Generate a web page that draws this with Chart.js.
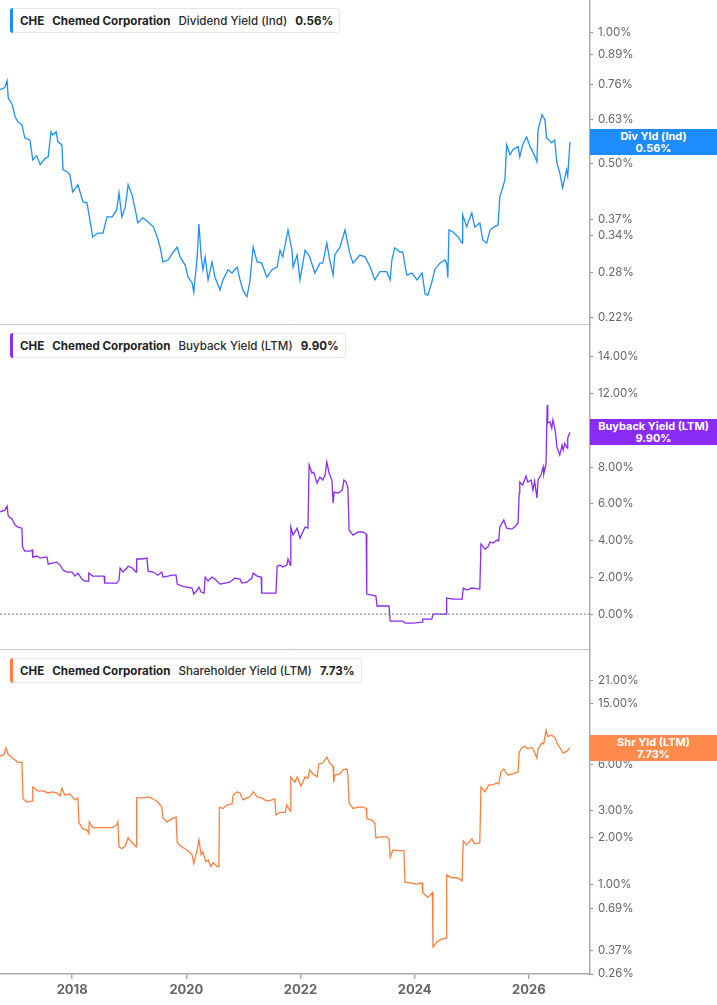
<!DOCTYPE html>
<html>
<head>
<meta charset="utf-8">
<script src="https://cdn.jsdelivr.net/npm/chart.js@4.4.1/dist/chart.umd.min.js"></script>
<style>
html,body{margin:0;padding:0;background:#fff;}
#wrap{position:relative;width:717px;height:1005px;overflow:hidden;font-family:Inter,"Noto Sans",sans-serif;}
.pane{position:absolute;left:0;width:717px;}
.legend{position:absolute;left:10px;top:8px;height:25px;border:1px solid #e6e6e6;border-radius:3px;background:#fff;display:flex;align-items:center;padding:0 6px 0 9px;font-size:11.6px;color:#222;white-space:nowrap;box-sizing:border-box;z-index:2;}
.legend .bar{position:absolute;left:-1px;top:-1px;bottom:-1px;width:3px;border-radius:3px 0 0 3px;}
.legend span{margin-right:8px;}
.legend span:last-child{margin-right:0;}
.legend .b{font-weight:700;}
.legend .n{font-weight:500;color:#2a2a2a;}
.badge{position:absolute;left:590px;width:127px;height:26px;color:#fff;font-weight:700;font-size:11px;line-height:12px;text-align:center;display:flex;flex-direction:column;justify-content:center;z-index:3;}
</style>
</head>
<body>
<div id="wrap">
  <div class="pane" style="top:0;height:325px;">
    <canvas id="c1"></canvas>
    <div class="legend"><div class="bar" style="background:#1e8cff"></div><span class="b">CHE</span><span class="b">Chemed Corporation</span><span class="n">Dividend Yield (Ind)</span><span class="b">0.56%</span></div>
    <div class="badge" id="b1" style="background:#1e8cff"><div>Div Yld (Ind)</div><div>0.56%</div></div>
  </div>
  <div class="pane" style="top:325px;height:325px;">
    <canvas id="c2"></canvas>
    <div class="legend"><div class="bar" style="background:#8a2cf5"></div><span class="b">CHE</span><span class="b">Chemed Corporation</span><span class="n">Buyback Yield (LTM)</span><span class="b">9.90%</span></div>
    <div class="badge" id="b2" style="background:#8a2cf5"><div>Buyback Yield (LTM)</div><div>9.90%</div></div>
  </div>
  <div class="pane" style="top:650px;height:355px;">
    <canvas id="c3"></canvas>
    <div class="legend"><div class="bar" style="background:#ff7f3f"></div><span class="b">CHE</span><span class="b">Chemed Corporation</span><span class="n">Shareholder Yield (LTM)</span><span class="b">7.73%</span></div>
    <div class="badge" id="b3" style="background:#ff8a4c"><div>Shr Yld (LTM)</div><div>7.73%</div></div>
  </div>
</div>
<script>
// ---------- DATA ----------
const yearTicks = [2018, 2020, 2022, 2024, 2026];
const xRange = [2016.736, 2027.07];

const divTicks = [1.00, 0.89, 0.76, 0.63, 0.50, 0.37, 0.34, 0.28, 0.22];
const divRange = [0.2128, 1.19];
const divLast = 0.56;
const dividendYield = [[2016.74,0.739],[2016.82,0.747],[2016.86,0.775],[2016.88,0.707],[2016.95,0.682],[2017.00,0.640],[2017.05,0.623],[2017.12,0.613],[2017.17,0.572],[2017.26,0.566],[2017.31,0.509],[2017.38,0.520],[2017.44,0.496],[2017.52,0.512],[2017.58,0.517],[2017.63,0.591],[2017.66,0.581],[2017.72,0.591],[2017.75,0.560],[2017.82,0.551],[2017.84,0.483],[2017.91,0.478],[2017.96,0.470],[2018.01,0.429],[2018.10,0.446],[2018.19,0.407],[2018.26,0.405],[2018.31,0.370],[2018.36,0.338],[2018.45,0.345],[2018.54,0.345],[2018.61,0.376],[2018.70,0.376],[2018.78,0.390],[2018.82,0.427],[2018.87,0.376],[2018.93,0.396],[2018.98,0.446],[2019.05,0.422],[2019.10,0.394],[2019.15,0.364],[2019.24,0.374],[2019.33,0.366],[2019.42,0.357],[2019.49,0.338],[2019.54,0.320],[2019.59,0.296],[2019.68,0.299],[2019.77,0.312],[2019.84,0.320],[2019.89,0.304],[2019.98,0.291],[2020.03,0.273],[2020.10,0.265],[2020.13,0.252],[2020.19,0.304],[2020.22,0.362],[2020.26,0.304],[2020.29,0.284],[2020.33,0.304],[2020.38,0.269],[2020.45,0.296],[2020.50,0.273],[2020.59,0.255],[2020.64,0.269],[2020.73,0.284],[2020.80,0.279],[2020.89,0.288],[2020.94,0.269],[2020.99,0.255],[2021.06,0.246],[2021.11,0.265],[2021.17,0.320],[2021.24,0.296],[2021.32,0.294],[2021.41,0.273],[2021.50,0.284],[2021.59,0.288],[2021.64,0.315],[2021.69,0.304],[2021.78,0.351],[2021.85,0.315],[2021.87,0.288],[2021.94,0.307],[2021.99,0.269],[2022.08,0.315],[2022.16,0.304],[2022.25,0.279],[2022.34,0.294],[2022.39,0.294],[2022.46,0.327],[2022.51,0.299],[2022.57,0.276],[2022.60,0.307],[2022.69,0.320],[2022.78,0.351],[2022.86,0.310],[2022.92,0.294],[2023.04,0.307],[2023.13,0.304],[2023.22,0.288],[2023.30,0.269],[2023.39,0.281],[2023.51,0.281],[2023.57,0.269],[2023.60,0.299],[2023.65,0.319],[2023.74,0.312],[2023.79,0.312],[2023.86,0.276],[2023.95,0.279],[2024.04,0.269],[2024.13,0.279],[2024.18,0.250],[2024.23,0.248],[2024.30,0.266],[2024.35,0.284],[2024.44,0.294],[2024.53,0.299],[2024.56,0.294],[2024.58,0.272],[2024.60,0.351],[2024.67,0.347],[2024.76,0.338],[2024.83,0.327],[2024.84,0.380],[2024.91,0.357],[2025.00,0.384],[2025.05,0.356],[2025.14,0.364],[2025.19,0.333],[2025.26,0.327],[2025.32,0.351],[2025.40,0.357],[2025.46,0.360],[2025.49,0.418],[2025.54,0.439],[2025.58,0.458],[2025.61,0.551],[2025.67,0.523],[2025.72,0.537],[2025.81,0.546],[2025.84,0.517],[2025.89,0.551],[2025.96,0.575],[2026.02,0.546],[2026.07,0.531],[2026.14,0.504],[2026.16,0.597],[2026.23,0.647],[2026.28,0.630],[2026.31,0.572],[2026.40,0.557],[2026.45,0.566],[2026.49,0.501],[2026.54,0.475],[2026.59,0.439],[2026.66,0.483],[2026.68,0.467],[2026.72,0.560]];

const buyTicks = [14, 12, 10, 8, 6, 4, 2, 0];
const buyRange = [-1.9, 15.74];
const buyLast = 9.90;
const buybackYield = [[2016.74,5.57],[2016.82,5.66],[2016.86,5.88],[2016.88,5.34],[2016.95,5.17],[2017.00,4.85],[2017.05,4.74],[2017.12,4.68],[2017.13,3.65],[2017.17,3.43],[2017.26,3.43],[2017.30,3.49],[2017.31,3.10],[2017.38,3.16],[2017.44,3.05],[2017.52,3.10],[2017.56,3.10],[2017.58,2.72],[2017.65,2.78],[2017.73,2.83],[2017.79,2.67],[2017.84,2.40],[2017.91,2.29],[2018.00,2.29],[2018.05,2.07],[2018.10,2.23],[2018.17,1.91],[2018.22,1.80],[2018.28,1.80],[2018.29,2.23],[2018.36,2.07],[2018.45,2.07],[2018.56,2.07],[2018.57,1.69],[2018.66,1.69],[2018.78,1.69],[2018.82,1.85],[2018.84,2.51],[2018.89,2.29],[2018.96,2.51],[2018.98,2.61],[2019.05,2.51],[2019.12,2.29],[2019.13,3.00],[2019.22,3.00],[2019.31,3.05],[2019.33,2.34],[2019.42,2.29],[2019.50,2.12],[2019.57,2.29],[2019.59,2.02],[2019.68,2.07],[2019.75,2.12],[2019.82,2.12],[2019.84,1.63],[2019.92,1.52],[2020.01,1.47],[2020.10,1.42],[2020.13,1.09],[2020.19,1.31],[2020.22,1.47],[2020.26,1.20],[2020.31,1.14],[2020.33,2.02],[2020.38,1.80],[2020.45,2.02],[2020.50,1.91],[2020.59,1.63],[2020.68,1.69],[2020.76,1.74],[2020.85,1.96],[2020.94,1.91],[2020.97,1.69],[2021.06,1.74],[2021.15,1.96],[2021.17,2.23],[2021.24,2.07],[2021.31,2.02],[2021.32,1.14],[2021.41,1.14],[2021.50,1.14],[2021.57,1.14],[2021.59,2.61],[2021.64,2.67],[2021.69,2.56],[2021.76,2.67],[2021.78,3.00],[2021.82,2.67],[2021.83,4.74],[2021.87,4.30],[2021.94,4.68],[2021.99,4.14],[2022.08,4.74],[2022.13,4.68],[2022.15,8.12],[2022.20,7.68],[2022.23,7.73],[2022.29,7.13],[2022.34,7.46],[2022.39,7.30],[2022.43,7.57],[2022.46,8.28],[2022.50,7.68],[2022.55,7.30],[2022.57,6.05],[2022.59,6.64],[2022.66,6.59],[2022.73,6.75],[2022.76,7.30],[2022.80,7.19],[2022.83,6.86],[2022.85,4.58],[2022.92,4.30],[2023.01,4.47],[2023.09,4.47],[2023.15,4.36],[2023.16,1.09],[2023.25,1.03],[2023.32,0.98],[2023.34,0.44],[2023.44,0.44],[2023.55,0.44],[2023.57,-0.38],[2023.69,-0.38],[2023.79,-0.38],[2023.83,-0.49],[2023.97,-0.49],[2024.13,-0.44],[2024.14,-0.27],[2024.30,-0.27],[2024.32,0.00],[2024.44,0.00],[2024.55,0.00],[2024.56,0.87],[2024.67,0.82],[2024.83,0.82],[2024.85,1.42],[2024.91,1.31],[2025.00,1.42],[2025.14,1.36],[2025.16,3.81],[2025.23,3.54],[2025.28,3.65],[2025.32,3.92],[2025.37,3.87],[2025.44,4.03],[2025.47,3.98],[2025.49,4.74],[2025.56,5.12],[2025.61,4.68],[2025.70,4.63],[2025.75,4.74],[2025.81,4.96],[2025.83,6.59],[2025.84,7.19],[2025.89,7.03],[2025.95,7.52],[2025.98,7.19],[2026.04,7.30],[2026.07,6.75],[2026.10,7.24],[2026.14,6.32],[2026.16,7.30],[2026.21,7.57],[2026.25,8.01],[2026.26,7.62],[2026.30,8.17],[2026.32,11.38],[2026.33,10.40],[2026.37,10.46],[2026.40,10.13],[2026.42,10.57],[2026.46,10.02],[2026.49,9.10],[2026.54,8.66],[2026.58,9.20],[2026.60,8.93],[2026.63,9.31],[2026.67,9.04],[2026.68,9.59],[2026.72,9.90]];

const shrTicks = [21, 15, 8, 6, 3, 2, 1, 0.69, 0.37, 0.26];
const shrRange = [0.26, 33.4];
const shrLast = 7.73;
const shareholderYield = [[2016.74,6.8],[2016.81,7.0],[2016.84,7.7],[2016.88,7.0],[2016.96,6.6],[2017.05,6.2],[2017.12,6.2],[2017.14,3.6],[2017.21,3.42],[2017.30,3.47],[2017.31,4.28],[2017.40,4.04],[2017.49,4.04],[2017.58,3.92],[2017.66,3.98],[2017.73,3.92],[2017.79,3.75],[2017.82,4.22],[2017.87,3.80],[2017.96,3.86],[2018.05,3.53],[2018.10,3.64],[2018.12,2.50],[2018.19,2.29],[2018.26,2.25],[2018.29,2.14],[2018.30,2.54],[2018.36,2.33],[2018.49,2.33],[2018.61,2.33],[2018.71,2.33],[2018.78,2.43],[2018.80,2.54],[2018.82,1.75],[2018.87,1.70],[2018.93,1.77],[2018.98,2.00],[2019.05,1.86],[2019.12,1.75],[2019.13,3.64],[2019.24,3.64],[2019.33,3.70],[2019.42,3.58],[2019.50,3.42],[2019.57,3.17],[2019.59,2.70],[2019.66,2.54],[2019.75,2.67],[2019.82,2.74],[2019.84,1.86],[2019.92,1.75],[2020.01,1.67],[2020.10,1.55],[2020.13,1.36],[2020.19,1.67],[2020.22,1.94],[2020.26,1.55],[2020.29,1.62],[2020.34,1.40],[2020.38,1.44],[2020.43,1.30],[2020.47,1.38],[2020.54,1.30],[2020.57,1.30],[2020.58,3.17],[2020.64,3.11],[2020.71,3.27],[2020.80,3.33],[2020.82,3.80],[2020.89,3.98],[2020.94,3.92],[2020.99,3.53],[2021.06,3.64],[2021.11,3.70],[2021.17,3.98],[2021.24,3.70],[2021.32,3.64],[2021.41,3.47],[2021.50,3.53],[2021.55,3.58],[2021.57,2.82],[2021.64,2.93],[2021.73,2.93],[2021.76,3.27],[2021.82,2.99],[2021.83,4.99],[2021.90,4.61],[2021.94,4.99],[2022.01,4.35],[2022.08,4.99],[2022.13,4.89],[2022.16,5.53],[2022.22,5.21],[2022.29,4.99],[2022.32,6.05],[2022.39,6.14],[2022.46,6.72],[2022.51,6.14],[2022.57,5.87],[2022.58,4.61],[2022.60,5.13],[2022.69,5.21],[2022.74,5.53],[2022.81,5.62],[2022.83,5.13],[2022.85,3.37],[2022.92,3.11],[2023.01,3.17],[2023.09,3.17],[2023.15,3.11],[2023.16,2.67],[2023.25,2.61],[2023.30,2.50],[2023.32,2.00],[2023.39,2.03],[2023.51,2.03],[2023.55,1.97],[2023.57,1.50],[2023.62,1.67],[2023.71,1.65],[2023.81,1.65],[2023.83,1.03],[2023.92,1.02],[2024.04,1.00],[2024.13,1.02],[2024.14,0.88],[2024.23,0.82],[2024.31,0.88],[2024.32,0.39],[2024.39,0.42],[2024.48,0.44],[2024.55,0.445],[2024.56,1.148],[2024.65,1.10],[2024.74,1.10],[2024.83,1.05],[2024.85,1.91],[2024.91,1.80],[2025.00,1.97],[2025.05,1.83],[2025.14,1.86],[2025.16,4.28],[2025.23,3.98],[2025.30,4.42],[2025.37,4.42],[2025.44,4.55],[2025.47,4.48],[2025.51,5.37],[2025.56,5.62],[2025.63,5.13],[2025.72,5.21],[2025.81,5.37],[2025.83,7.23],[2025.88,7.75],[2025.93,7.90],[2025.98,7.60],[2026.05,7.75],[2026.10,7.23],[2026.14,6.60],[2026.16,7.60],[2026.23,8.30],[2026.26,8.17],[2026.30,10.07],[2026.33,9.16],[2026.40,9.32],[2026.46,8.96],[2026.49,8.30],[2026.54,7.75],[2026.60,7.12],[2026.63,7.23],[2026.67,7.34],[2026.72,7.73]];

// ---------- CHARTS ----------
const toXY = arr => arr.map(p => ({x: p[0], y: p[1]}));

const badgePlugin = {
  id: 'badgePos',
  afterDraw(chart, args, opts) {
    if (!opts || !opts.el) return;
    const y = chart.scales.y.getPixelForValue(opts.value);
    const el = document.getElementById(opts.el);
    el.style.top = (y - 13) + 'px';
  }
};

function makePanel(id, cfg) {
  const cv = document.getElementById(id);
  cv.width = 717; cv.height = cfg.height;
  cv.style.width = '717px'; cv.style.height = cfg.height + 'px';
  const datasets = [];
  if (cfg.zeroLine) {
    datasets.push({
      data: [{x: xRange[0], y: 0}, {x: xRange[1], y: 0}],
      borderColor: '#777', borderWidth: 1, borderDash: [2, 2],
      pointRadius: 0, tension: 0
    });
  }
  datasets.push({
    data: toXY(cfg.data), borderColor: cfg.color, borderWidth: 1.3,
    pointRadius: 0, tension: 0, fill: false
  });
  return new Chart(cv, {
    type: 'line',
    data: {datasets},
    plugins: [badgePlugin],
    options: {
      responsive: false, animation: false, devicePixelRatio: 1,
      layout: {padding: {top: 0, left: 0, right: 0, bottom: cfg.showX ? 0 : 1}},
      plugins: {legend: {display: false}, tooltip: {enabled: false},
        badgePos: {el: cfg.badge, value: cfg.last}},
      scales: {
        x: {
          type: 'linear', min: xRange[0], max: xRange[1],
          afterBuildTicks: s => { s.ticks = yearTicks.map(v => ({value: v})); },
          afterFit: s => { s.height = cfg.showX ? 31 : 0; s.paddingLeft = 0; s.paddingRight = 0; },
          ticks: {display: cfg.showX, autoSkip: false, maxRotation: 0, padding: 3,
            callback: v => String(v), color: '#666',
            font: {family: 'Inter', size: 13, weight: 'bold'}},
          grid: {display: cfg.showX, drawOnChartArea: false, tickLength: 5, color: '#aaa', lineWidth: 1.5},
          border: {display: true, color: cfg.showX ? '#aaa' : '#c8c8c8', width: cfg.showX ? 1.5 : 1}
        },
        y: {
          type: cfg.yType, position: 'right', min: cfg.range[0], max: cfg.range[1],
          afterBuildTicks: s => { s.ticks = cfg.ticks.map(v => ({value: v})); },
          afterFit: s => { s.width = 127; s.paddingTop = 0; s.paddingBottom = 0; },
          ticks: {autoSkip: false, padding: 5, color: '#666',
            callback: v => Number(v).toFixed(2) + '%',
            font: {family: 'Inter', size: 11.5}},
          grid: {drawOnChartArea: false, drawTicks: true, tickLength: 3, color: '#888'},
          border: {display: true, color: '#aaa', width: 1.5}
        }
      }
    }
  });
}

makePanel('c1', {height: 325, data: dividendYield, color: '#1e90ff', yType: 'logarithmic',
  range: divRange, ticks: divTicks, showX: false, badge: 'b1', last: divLast});
makePanel('c2', {height: 325, data: buybackYield, color: '#8a2cf5', yType: 'linear',
  range: buyRange, ticks: buyTicks, showX: false, badge: 'b2', last: buyLast, zeroLine: true});
makePanel('c3', {height: 355, data: shareholderYield, color: '#ff7f3f', yType: 'logarithmic',
  range: shrRange, ticks: shrTicks, showX: true, badge: 'b3', last: shrLast});
</script>
</body>
</html>
